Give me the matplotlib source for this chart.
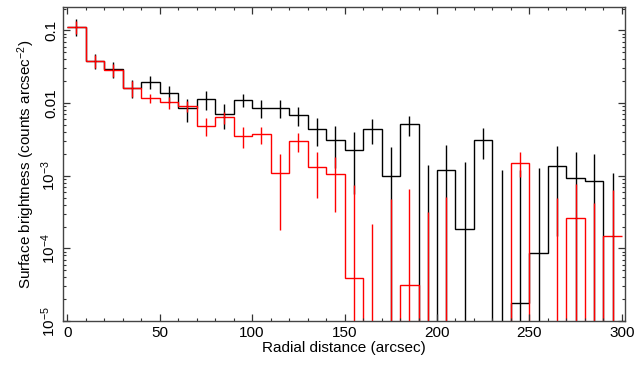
import numpy as np
import matplotlib
matplotlib.use('Agg')
import matplotlib.pyplot as plt
from matplotlib.ticker import MultipleLocator, LogLocator, NullFormatter

plt.rcParams['font.family'] = ['Liberation Sans', 'DejaVu Sans']
plt.rcParams['mathtext.fontset'] = 'custom'
plt.rcParams['mathtext.rm'] = 'Liberation Sans'
plt.rcParams['mathtext.it'] = 'Liberation Sans:italic'

# 10 arcsec radial bins
bin_edges = np.arange(0, 301, 10)
bin_centers = bin_edges[:-1] + 5

# black profile
black_sb = [0.113, 0.038, 0.0294, 0.0163, 0.0197, 0.0136, 0.00845, 0.0114,
            0.00705, 0.011, 0.0086, 0.0086, 0.0069, 0.00443, 0.00306, 0.00227,
            0.00443, 0.000984, 0.00508, 0.0, 0.00119, 0.000187, 0.00309, 0.0,
            1.8e-5, 8.7e-5, 0.00135, 0.000944, 0.00084, 0.0]
black_err = [0.030, 0.009, 0.007, 0.0045, 0.0039, 0.0035, 0.0030, 0.0034,
             0.0026, 0.0022, 0.0024, 0.0024, 0.0020, 0.0019, 0.0018, 0.0017,
             0.0017, 0.0015, 0.0015, 0.0014, 0.00145, 0.00136, 0.0014, 0.0012,
             0.0012, 0.0012, 0.0012, 0.0012, 0.00114, 0.0011]

# red profile
red_sb = [0.112, 0.038, 0.0285, 0.0163, 0.0118, 0.0102, 0.0091, 0.00487,
          0.00635, 0.00354, 0.00373, 0.00108, 0.00302, 0.0013, 0.00107, 3.94e-5,
          0.0, 0.0, 3.15e-5, 0.0, 0.0, 0.0, 0.0, 0.0,
          0.00152, 0.0, 0.0, 2.65e-4, 0.0, 1.47e-4]
red_err = [0.024, 0.008, 0.006, 0.004, 0.0017, 0.0018, 0.0016, 0.0013,
           0.0012, 0.0011, 0.001, 0.0009, 0.0009, 0.0008, 0.00075, 7e-4,
           2.2e-4, 4.85e-4, 6.3e-4, 3.17e-4, 5.1e-4, 0.0, 0.0, 0.0,
           5.7e-4, 0.0, 4.9e-4, 5.1e-4, 4.2e-4, 4.8e-4]

tiny = 1e-12

fig = plt.figure(figsize=(6.37, 3.67), dpi=100)
ax = fig.add_axes([0.099, 0.125, 0.882, 0.856])

for sb, err, col in [(black_sb, black_err, 'black'), (red_sb, red_err, 'red')]:
    sb = np.array(sb)
    err = np.array(err)
    ax.stairs(np.clip(sb, tiny, None), bin_edges, baseline=None, color=col, lw=1.0)
    has = err > 0
    lo = np.clip(sb - err, tiny, None)
    hi = sb + err
    ax.vlines(bin_centers[has], lo[has], hi[has], color=col, lw=1.0)

ax.set_yscale('log')
ax.set_xlim(-2.2, 301.6)
ax.set_ylim(1e-5, 0.21)

ax.xaxis.set_major_locator(MultipleLocator(50))
ax.xaxis.set_minor_locator(MultipleLocator(10))
ax.set_yticks([1e-5, 1e-4, 1e-3, 1e-2, 1e-1])
ax.set_yticklabels(['$10^{-5}$', '$10^{-4}$', '$10^{-3}$', '0.01', '0.1'],
                   rotation=90, va='center')
ax.yaxis.set_minor_locator(LogLocator(base=10, subs=np.arange(2, 10)))
ax.yaxis.set_minor_formatter(NullFormatter())

ax.tick_params(which='both', direction='in', top=True, right=True,
               labelsize=11, color='#333333')
ax.tick_params(which='major', length=5, width=0.9)
ax.tick_params(which='minor', length=2.5, width=0.8)
for s in ax.spines.values():
    s.set_color('#444444')
    s.set_linewidth(1.0)

ax.set_xlabel('Radial distance (arcsec)', fontsize=11, labelpad=1)
ax.set_ylabel('Surface brightness (counts arcsec$^{-2}$)', fontsize=11, labelpad=2)

fig.savefig('out.png', dpi=100)
